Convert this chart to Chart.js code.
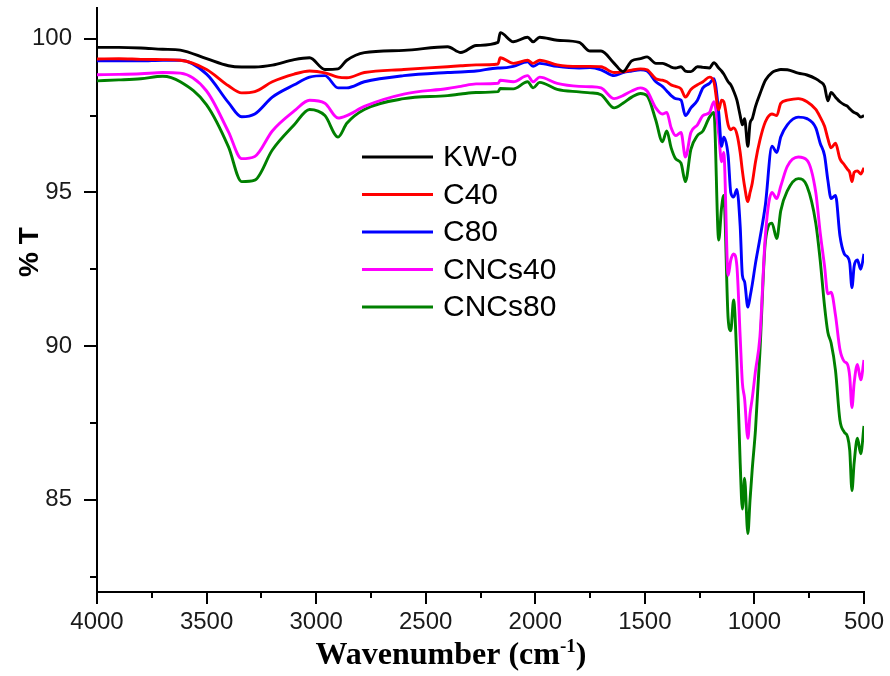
<!DOCTYPE html>
<html>
<head>
<meta charset="utf-8">
<script src="https://cdn.jsdelivr.net/npm/chart.js@4/dist/chart.umd.min.js"></script>
<style>
  html, body { margin: 0; padding: 0; background: #fff; }
  #wrap { width: 890px; height: 676px; }
</style>
</head>
<body>
<div id="wrap"><canvas id="ftir"></canvas></div>
<script>
// - FTIR spectra (%T vs wavenumber)

const wavenumbers = [
  4000, 3900, 3800, 3700, 3620, 3500, 3400, 3340, 3280, 3200,
  3100, 3030, 2960, 2900, 2860, 2780, 2600, 2400, 2340, 2270,
  2170, 2160, 2100, 2035, 2010, 1980, 1900, 1800, 1750, 1700,
  1640, 1600, 1560, 1520, 1490, 1450, 1420, 1400, 1380, 1360,
  1335, 1315, 1290, 1260, 1235, 1205, 1185, 1163, 1150, 1140,
  1120, 1108, 1095, 1080, 1065, 1055, 1045, 1030, 1020, 1010,
  995, 975, 950, 920, 898, 880, 850, 800, 760, 720,
  700, 680, 665, 650, 630, 610, 590, 575, 565, 555,
  545, 530, 515, 500
]

const kw0 = [
  99.72, 99.72, 99.70, 99.66, 99.63, 99.35, 99.12, 99.08, 99.08, 99.14,
  99.32, 99.38, 99.00, 99.02, 99.30, 99.55, 99.62, 99.74, 99.55, 99.78,
  99.88, 100.2, 99.90, 100.05, 99.90, 100.05, 99.95, 99.88, 99.60, 99.60,
  99.20, 98.93, 99.28, 99.35, 99.41, 99.20, 99.20, 99.15, 99.08, 99.05,
  99.09, 98.95, 98.93, 99.09, 99.07, 99.05, 99.22, 99.05, 98.95, 98.85,
  98.60, 98.50, 98.30, 98.00, 97.50, 97.20, 97.40, 96.50, 97.25, 97.40,
  97.80, 98.20, 98.65, 98.90, 98.97, 99.00, 98.99, 98.88, 98.82, 98.70,
  98.60, 98.45, 97.98, 98.25, 98.10, 97.95, 97.85, 97.80, 97.72, 97.65,
  97.60, 97.55, 97.45, 97.50
]

const c40 = [
  99.34, 99.35, 99.33, 99.32, 99.30, 99.00, 98.47, 98.24, 98.28, 98.60,
  98.85, 98.95, 98.89, 98.75, 98.73, 98.90, 99.00, 99.09, 99.12, 99.15,
  99.18, 99.38, 99.20, 99.30, 99.20, 99.30, 99.15, 99.10, 99.10, 99.09,
  98.90, 98.92, 98.98, 99.02, 98.99, 98.70, 98.65, 98.60, 98.50, 98.45,
  98.37, 98.10, 98.35, 98.50, 98.60, 98.75, 98.60, 97.69, 98.00, 97.95,
  97.20, 97.04, 97.10, 96.90, 96.30, 95.70, 95.20, 94.70, 95.00, 95.30,
  96.00, 96.70, 97.30, 97.55, 97.50, 97.90, 98.00, 98.05, 97.95, 97.70,
  97.45, 97.15, 96.75, 96.45, 96.60, 96.10, 95.90, 95.75, 95.65, 95.35,
  95.65, 95.70, 95.60, 95.80
]

const c80 = [
  99.28, 99.28, 99.28, 99.30, 99.30, 98.85, 97.92, 97.46, 97.55, 98.10,
  98.50, 98.75, 98.80, 98.40, 98.40, 98.60, 98.80, 98.90, 98.92, 98.95,
  99.05, 99.05, 99.10, 99.25, 99.10, 99.20, 99.10, 99.05, 99.06, 98.99,
  98.80, 98.90, 98.95, 98.99, 98.95, 98.60, 98.45, 98.30, 98.15, 98.05,
  98.00, 97.50, 97.75, 98.00, 98.40, 98.55, 98.70, 97.60, 96.50, 96.80,
  96.20, 95.00, 94.85, 95.10, 93.90, 92.30, 92.10, 91.27, 91.60, 92.00,
  92.70, 93.50, 94.60, 96.50, 96.30, 96.80, 97.20, 97.45, 97.40, 97.10,
  96.60, 96.20, 95.40, 94.80, 94.90, 93.60, 93.00, 92.90, 92.70, 91.90,
  92.60, 92.80, 92.50, 93.00
]

const cncs40 = [
  98.83, 98.84, 98.86, 98.90, 98.88, 98.30, 96.97, 96.10, 96.17, 97.00,
  97.65, 98.00, 97.90, 97.42, 97.50, 97.80, 98.20, 98.38, 98.45, 98.53,
  98.55, 98.65, 98.60, 98.80, 98.60, 98.75, 98.55, 98.45, 98.44, 98.40,
  98.05, 98.15, 98.30, 98.40, 98.30, 97.75, 97.55, 97.60, 97.10, 96.85,
  96.95, 96.15, 96.95, 97.20, 97.50, 97.60, 97.95, 96.90, 96.00, 96.30,
  92.30, 92.80, 93.00, 92.60, 90.30, 88.80, 88.30, 87.00, 87.80, 88.30,
  89.20, 90.30, 93.60, 95.00, 94.80, 95.20, 95.85, 96.15, 96.05, 95.00,
  93.70, 92.60, 91.70, 91.75, 91.00, 89.90, 89.50, 89.40, 89.00, 88.00,
  88.80, 89.40, 88.90, 89.55
]

const cncs80 = [
  98.63, 98.66, 98.70, 98.78, 98.60, 97.85, 96.48, 95.35, 95.40, 96.38,
  97.20, 97.70, 97.50, 96.80, 97.25, 97.70, 98.05, 98.15, 98.20, 98.25,
  98.28, 98.38, 98.37, 98.60, 98.40, 98.58, 98.35, 98.27, 98.24, 98.18,
  97.75, 97.90, 98.10, 98.22, 98.15, 97.35, 96.65, 97.00, 96.45, 96.10,
  95.95, 95.35, 96.40, 96.85, 97.00, 97.45, 97.60, 93.45, 94.50, 94.90,
  90.90, 90.50, 91.50, 89.50, 86.20, 84.70, 85.70, 83.90, 85.00, 86.00,
  87.30, 89.80, 93.40, 94.00, 93.50, 94.40, 95.05, 95.45, 95.20, 94.00,
  92.80, 91.30, 90.45, 90.10, 89.20, 87.60, 87.20, 87.05, 86.60, 85.30,
  86.20, 87.00, 86.50, 87.40
]

const seriesNames = ['KW-0', 'C40', 'C80', 'CNCs40', 'CNCs80']
const seriesColors = ['#000000', '#FF0000', '#0000FF', '#FF00FF', '#008000']
const seriesValues = [kw0, c40, c80, cncs40, cncs80]

const xTickValues = [4000, 3500, 3000, 2500, 2000, 1500, 1000, 500]
const xMinorTicks = [3750, 3250, 2750, 2250, 1750, 1250, 750]
const yTickValues = [85, 90, 95, 100]
const yMinorTicks = [82.5, 87.5, 92.5, 97.5]

const FtirData = {
  datasets: seriesNames.map((name, i) => ({
    label: name,
    borderColor: seriesColors[i],
    backgroundColor: seriesColors[i],
    borderWidth: 2.9,
    pointRadius: 0,
    cubicInterpolationMode: 'monotone',
    borderJoinStyle: 'round',
    data: wavenumbers.map((w, j) => ({ x: w, y: seriesValues[i][j] })),
  }))
}

// no extra label padding, so the plot box stays where it is in the figure
function noPad(s) {
  s.paddingTop = 0; s.paddingBottom = 0; s.paddingLeft = 0; s.paddingRight = 0
}

// tick marks, legend and axis titles drawn on top
const extras = {
  id: 'extras',
  afterDraw(chart) {
    const ctx = chart.ctx
    const area = chart.chartArea
    const sx = chart.scales.x
    const sy = chart.scales.y
    ctx.save()
    ctx.strokeStyle = '#000'
    ctx.lineWidth = 2
    ctx.beginPath()
    xTickValues.forEach(v => {
      const p = Math.round(sx.getPixelForValue(v))
      ctx.moveTo(p, area.bottom); ctx.lineTo(p, area.bottom + 12)
    })
    xMinorTicks.forEach(v => {
      const p = Math.round(sx.getPixelForValue(v))
      ctx.moveTo(p, area.bottom); ctx.lineTo(p, area.bottom + 6)
    })
    yTickValues.forEach(v => {
      const p = Math.round(sy.getPixelForValue(v))
      ctx.moveTo(area.left, p); ctx.lineTo(area.left - 13, p)
    })
    yMinorTicks.forEach(v => {
      const p = Math.round(sy.getPixelForValue(v))
      ctx.moveTo(area.left, p); ctx.lineTo(area.left - 7, p)
    })
    ctx.stroke()

    // legend
    ctx.font = '30px "Liberation Sans", Arial, sans-serif'
    ctx.textBaseline = 'middle'
    ctx.textAlign = 'left'
    seriesNames.forEach((name, i) => {
      const yy = area.top + 149 + i * 37.5
      ctx.strokeStyle = seriesColors[i]
      ctx.lineWidth = 3
      ctx.beginPath()
      ctx.moveTo(area.left + 265, yy); ctx.lineTo(area.left + 336, yy)
      ctx.stroke()
      ctx.fillStyle = '#000'
      ctx.fillText(name, area.left + 346, yy + 1)
    })

    // y title
    ctx.save()
    ctx.translate(30, 252)
    ctx.rotate(-Math.PI / 2)
    ctx.font = 'bold 28px "Liberation Sans", Arial, sans-serif'
    ctx.textAlign = 'center'
    ctx.textBaseline = 'middle'
    ctx.fillStyle = '#000'
    ctx.fillText('% T', 0, 0)
    ctx.restore()

    // x title with superscript
    const big = 'bold 32px "Liberation Serif", "Times New Roman", serif'
    const small = 'bold 19px "Liberation Serif", "Times New Roman", serif'
    const p1 = 'Wavenumber (cm', p2 = '-1', p3 = ')'
    ctx.font = big
    const w1 = ctx.measureText(p1).width
    const w3 = ctx.measureText(p3).width
    ctx.font = small
    const w2 = ctx.measureText(p2).width
    let tx = 451 - (w1 + w2 + w3) / 2
    const base = 664
    ctx.textBaseline = 'alphabetic'
    ctx.textAlign = 'left'
    ctx.fillStyle = '#000'
    ctx.font = big
    ctx.fillText(p1, tx, base)
    tx += w1
    ctx.font = small
    ctx.fillText(p2, tx, base - 12)
    tx += w2
    ctx.font = big
    ctx.fillText(p3, tx, base)
    ctx.restore()
  }
}

const FtirConfig = {
  type: 'line',
  data: FtirData,
  options: {
    responsive: true,
    maintainAspectRatio: false,
    animation: false,
    devicePixelRatio: 1,
    layout: { padding: { top: 8, right: 26, bottom: 0, left: 0 } },
    scales: {
      x: {
        type: 'linear',
        reverse: true,
        min: 500,
        max: 4000,
        afterFit: s => { s.height = 84; noPad(s) },
        afterBuildTicks: s => { s.ticks = xTickValues.map(v => ({ value: v })) },
        grid: { display: false, drawTicks: false, tickLength: 0 },
        border: { display: true, color: '#000', width: 2 },
        ticks: {
          padding: 16,
          maxRotation: 0,
          autoSkip: false,
          color: '#1a1a1a',
          callback: v => String(v),
          font: { family: '"Liberation Sans", Arial, sans-serif', size: 24 }
        }
      },
      y: {
        min: 82,
        max: 101,
        afterFit: s => { s.width = 97; noPad(s) },
        afterBuildTicks: s => { s.ticks = yTickValues.map(v => ({ value: v })) },
        grid: { display: false, drawTicks: false, tickLength: 0 },
        border: { display: true, color: '#000', width: 2 },
        ticks: {
          padding: 25,
          color: '#1a1a1a',
          callback: v => String(v),
          font: { family: '"Liberation Sans", Arial, sans-serif', size: 24 }
        }
      }
    },
    plugins: {
      legend: { display: false },
      tooltip: { enabled: false }
    }
  },
  plugins: [extras]
}

const FtirGrafico = new Chart(
  document.getElementById('ftir'),
  FtirConfig
)
</script>
</body>
</html>
